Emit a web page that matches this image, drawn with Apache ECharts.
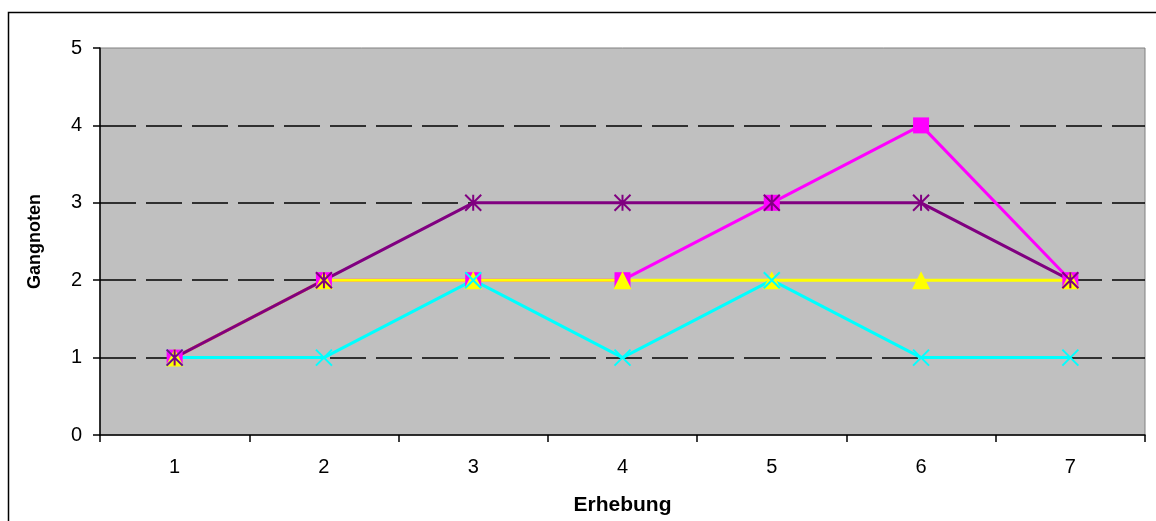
<!DOCTYPE html>
<html>
<head>
<meta charset="utf-8">
<script src="https://cdn.jsdelivr.net/npm/echarts@6/dist/echarts.min.js"></script>
<style>
html,body{margin:0;padding:0;background:#fff;}
#c{width:1156px;height:521px;}
</style>
</head>
<body>
<div id="c"></div>
<script>
const categories = ['1','2','3','4','5','6','7'];
const magentaValues = [1,2,2,2,3,4,2];
const yellowValues  = [1,2,2,2,2,2,2];
const cyanValues    = [1,1,2,1,2,1,1];
const purpleValues  = [1,2,3,3,3,3,2];
const yTicks = [0,1,2,3,4,5];

const xSym = 'path://M0,0L10,10M10,0L0,10';
const starSym = 'path://M0,0L10,10M10,0L0,10M5,0L5,10';

const chart = echarts.init(document.getElementById('c'));
const font = 'Liberation Sans, Arial, sans-serif';
function series(name, data, color, symbol, size, filled) {
  return {
    name, type: 'line', data, symbol, symbolSize: size,
    lineStyle: { color, width: 3 },
    itemStyle: filled ? { color, borderWidth: 0 } : { color: 'rgba(0,0,0,0)', borderColor: color, borderWidth: 2 },
    emphasis: { disabled: true },
    animation: false
  };
}
chart.setOption({
  animation: false,
  graphic: [{
    type: 'rect', shape: { x: 8.5, y: 12.5, width: 1160, height: 530 },
    style: { fill: 'none', stroke: '#000', lineWidth: 1.5 }, z: -10
  }],
  grid: {
    left: 100, top: 48, width: 1045, height: 387,
    show: true, backgroundColor: '#c0c0c0', borderColor: '#808080', borderWidth: 1
  },
  xAxis: {
    type: 'category', data: categories, boundaryGap: true,
    name: 'Erhebung', nameLocation: 'middle', nameGap: 60,
    nameTextStyle: { fontFamily: font, fontSize: 21, fontWeight: 'bold', color: '#000' },
    axisLine: { lineStyle: { color: '#000', width: 1.5 } },
    axisTick: { show: true, alignWithLabel: false, length: 7, inside: false, lineStyle: { color: '#000', width: 1.5 } },
    axisLabel: { fontFamily: font, fontSize: 20, color: '#000', margin: 22 },
    splitLine: { show: false }
  },
  yAxis: {
    type: 'value', min: 0, max: 5, interval: 1,
    name: 'Gangnoten', nameLocation: 'middle', nameGap: 56, nameRotate: 90,
    nameTextStyle: { fontFamily: font, fontSize: 18, fontWeight: 'bold', color: '#000' },
    axisLine: { show: true, lineStyle: { color: '#000', width: 1.5 } },
    axisTick: { show: true, length: 7, lineStyle: { color: '#000', width: 1.5 } },
    axisLabel: { fontFamily: font, fontSize: 20, color: '#000', margin: 18,
      formatter: v => yTicks.includes(v) ? String(v) : '' },
    splitLine: { show: true, showMinLine: false, showMaxLine: false,
      lineStyle: { color: '#000', width: 1.5, type: [36, 10] } }
  },
  series: [
    series('Magenta', magentaValues, '#ff00ff', 'rect', 16, true),
    series('Gelb', yellowValues, '#ffff00', 'triangle', 18, true),
    series('Cyan', cyanValues, '#00ffff', xSym, 16, false),
    series('Lila', purpleValues, '#800080', starSym, 16, false)
  ]
});
</script>
</body>
</html>
